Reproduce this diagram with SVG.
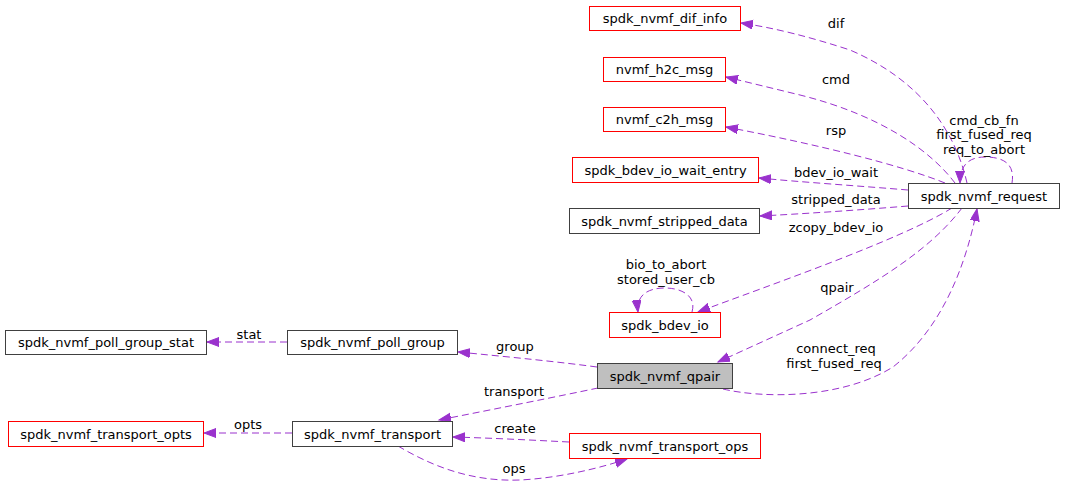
<svg xmlns="http://www.w3.org/2000/svg" width="1065" height="486" viewBox="0 0 1065 486">
<style>
text{font-family:"DejaVu Sans","Liberation Sans",sans-serif;font-size:13px;fill:#000;text-anchor:middle}
.n rect{fill:#fff;stroke:#404040;stroke-width:1}
.r rect{fill:#fff;stroke:#ff0000;stroke-width:1}
.g rect{fill:#bfbfbf;stroke:#404040;stroke-width:1}
#edges path{fill:none;stroke:#9a32cd;stroke-width:1;stroke-dasharray:7,4;marker-end:url(#ah)}
</style>
<defs>
<marker id="ah" markerWidth="14" markerHeight="10" refX="12" refY="4.5" orient="auto" markerUnits="userSpaceOnUse">
<path d="M0,0 L12,4.5 L0,9 z" fill="#9a32cd" stroke="#9a32cd"/>
</marker>
</defs>
<rect width="1065" height="486" fill="#fff"/>
<g id="edges">
<path d="M967,183 C955,130 920,80 850,50 C810,37 775,28 741,23"/>
<path d="M955,183 C930,150 880,115 800,95 L726,77"/>
<path d="M945,183 C900,165 820,145 726,127"/>
<path d="M908,190 C860,186 800,182 759,178"/>
<path d="M908,206 C860,210 800,214 760,216"/>
<path d="M1012,183 C1015,165 1005,157 985,157 C968,157 960,166 960,183"/>
<path d="M952,208 C900,240 770,285 698,312"/>
<path d="M962,208 C930,250 880,280 810,320 L718,362"/>
<path d="M723,389 C760,398 840,400 893,367 C940,330 965,270 977,209"/>
<path d="M692,312 C697,295 680,288 665,288 C648,288 636,295 638,312"/>
<path d="M597,367 C560,362 510,357 458,352"/>
<path d="M287,342 L207,342"/>
<path d="M598,388 C560,396 500,408 439,420"/>
<path d="M292,433 L204,433"/>
<path d="M569,442 C530,440 490,438 453,437"/>
<path d="M398,446 C430,465 470,482 520,480 C560,478 600,468 627,459"/>
<text x="836" y="28">dif</text>
<text x="836" y="84">cmd</text>
<text x="836" y="135">rsp</text>
<text x="836" y="177">bdev_io_wait</text>
<text x="836" y="204">stripped_data</text>
<text x="836" y="232">zcopy_bdev_io</text>
<text x="984" y="125">cmd_cb_fn</text>
<text x="984" y="139">first_fused_req</text>
<text x="984" y="154">req_to_abort</text>
<text x="666" y="269">bio_to_abort</text>
<text x="666" y="284">stored_user_cb</text>
<text x="837" y="292">qpair</text>
<text x="836" y="353">connect_req</text>
<text x="834" y="368">first_fused_req</text>
<text x="515" y="351">group</text>
<text x="249" y="339">stat</text>
<text x="514" y="396">transport</text>
<text x="248" y="429">opts</text>
<text x="515" y="433">create</text>
<text x="514" y="473">ops</text>
</g>
<g id="dif_info" class="r"><rect x="589.5" y="6.5" width="151" height="24"/><text x="665" y="23">spdk_nvmf_dif_info</text></g>
<g id="h2c_msg" class="r"><rect x="603.5" y="57.5" width="122" height="24" style="stroke:#ff0000"/><text x="664.5" y="74">nvmf_h2c_msg</text></g>
<g id="c2h_msg" class="r"><rect x="603.5" y="107.5" width="122" height="24" style="stroke:#ff0000"/><text x="664.5" y="124">nvmf_c2h_msg</text></g>
<g id="bdev_io_wait_entry" class="r"><rect x="572.5" y="157.5" width="186" height="25"/><text x="665.5" y="175">spdk_bdev_io_wait_entry</text></g>
<g id="stripped_data" class="n"><rect x="569.5" y="208.5" width="190" height="25"/><text x="664.5" y="226">spdk_nvmf_stripped_data</text></g>
<g id="request" class="n"><rect x="908.5" y="183.5" width="151" height="25"/><text x="984" y="201">spdk_nvmf_request</text></g>
<g id="bdev_io" class="r"><rect x="609.5" y="312.5" width="111" height="25"/><text x="665" y="330">spdk_bdev_io</text></g>
<g id="qpair" class="g"><rect x="597.5" y="363.5" width="135" height="25"/><text x="665" y="381">spdk_nvmf_qpair</text></g>
<g id="poll_group_stat" class="n"><rect x="5.5" y="330.5" width="201" height="24"/><text x="106" y="347">spdk_nvmf_poll_group_stat</text></g>
<g id="poll_group" class="n"><rect x="287.5" y="330.5" width="170" height="24"/><text x="372.5" y="347">spdk_nvmf_poll_group</text></g>
<g id="transport_opts" class="r"><rect x="8.5" y="421.5" width="195" height="25"/><text x="106" y="439">spdk_nvmf_transport_opts</text></g>
<g id="transport" class="n"><rect x="292.5" y="421.5" width="160" height="25"/><text x="372.5" y="439">spdk_nvmf_transport</text></g>
<g id="transport_ops" class="r"><rect x="569.5" y="433.5" width="191" height="25"/><text x="665" y="451">spdk_nvmf_transport_ops</text></g>
</svg>
